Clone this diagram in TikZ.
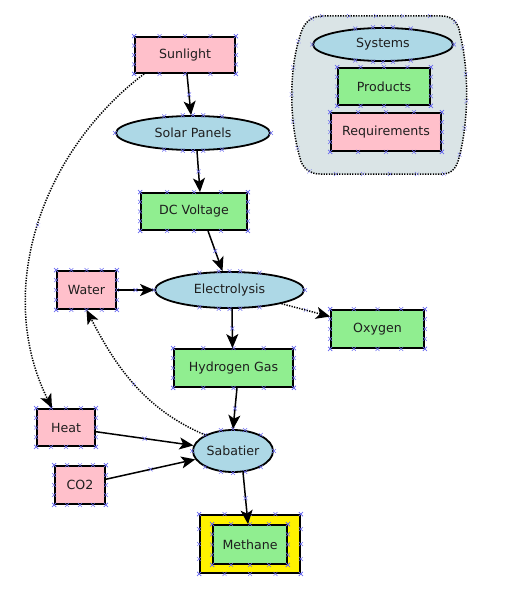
\documentclass[tikz,border=0pt]{standalone}
\usepackage{fontspec}
\setmainfont{DejaVu Sans}
\usetikzlibrary{arrows.meta,shapes.geometric,shapes.misc,calc,decorations.markings}
\definecolor{pinkc}{RGB}{255,192,203}
\definecolor{greenc}{RGB}{144,238,144}
\definecolor{bluec}{RGB}{173,216,230}
\definecolor{legendc}{RGB}{218,228,230}
\definecolor{markc}{RGB}{110,110,240}
\definecolor{txtc}{RGB}{30,30,30}
\begin{document}
\begin{tikzpicture}[x=1pt,y=-1pt,
  font=\fontsize{12.6}{14}\selectfont,
  box/.style={draw=black,line width=1.8pt,rectangle,inner sep=0pt,text=txtc},
  req/.style={box,fill=pinkc},
  prod/.style={box,fill=greenc},
  sys/.style={box,ellipse,fill=bluec},
  xm/.style={cross out,draw=markc,line width=0.5pt,minimum size=3.5pt,inner sep=0pt},
  midmark/.style={postaction={decorate,decoration={markings,mark=at position 0.5 with {\node[xm]{};}}}},
  tip/.style={-{Stealth[length=14pt,width=12pt,inset=3.5pt]}},
  flow/.style={line width=1.5pt,tip,midmark},
  aux/.style={line width=1.5pt,dash pattern=on 1.3pt off 1.3pt,tip,midmark}
]
\useasboundingbox (0,0) rectangle (505,599);

% legend container
\draw[line width=1.5pt,dash pattern=on 1.3pt off 1.3pt,fill=legendc,
  postaction={decorate,decoration={markings,mark=between positions 0 and 1 step 27pt with {\node[xm]{};}}}]
  (322,16) -- (442,16) .. controls (453,16) and (459,24) .. (460,34)
  .. controls (469,70) and (469,120) .. (459,158)
  .. controls (456,170) and (450,174) .. (442,174) -- (320,174)
  .. controls (310,174) and (302,168) .. (300,158)
  .. controls (289,120) and (289,70) .. (300,36)
  .. controls (303,24) and (310,16) .. (322,16) -- cycle;

% legend nodes
\node[sys,minimum width=140pt,minimum height=33pt] (lsys) at (383,44.5) {Systems};
\node[prod,minimum width=92pt,minimum height=37pt] (lprod) at (384,86.5) {Products};
\node[req,minimum width=110pt,minimum height=38pt] (lreq) at (386,132) {Requirements};

% main nodes
\node[req,minimum width=100pt,minimum height=36pt] (sun) at (185,55) {Sunlight};
\node[sys,minimum width=154pt,minimum height=34pt] (solar) at (193,133) {Solar Panels};
\node[prod,minimum width=106pt,minimum height=37pt] (dc) at (194,211.5) {DC Voltage};
\node[sys,minimum width=149pt,minimum height=36pt] (elec) at (229.5,290) {Electrolysis};
\node[req,minimum width=59pt,minimum height=38pt] (water) at (86.5,290) {Water};
\node[prod,minimum width=93pt,minimum height=38pt] (oxy) at (377.5,329) {Oxygen};
\node[prod,minimum width=119pt,minimum height=38pt] (hyd) at (233.5,368) {Hydrogen Gas};
\node[req,minimum width=58pt,minimum height=37pt] (heat) at (66,427.5) {Heat};
\node[sys,minimum width=80pt,minimum height=42pt] (sab) at (233,451) {Sabatier};
\node[req,minimum width=50pt,minimum height=38pt] (co2) at (80,485) {CO2};
\node[box,fill=yellow,minimum width=100pt,minimum height=58pt] (methframe) at (250,544) {};
\node[prod,minimum width=74pt,minimum height=39pt] (methane) at (250,544.5) {Methane};

% anchor marks on rectangles
\foreach \n in {lprod,lreq,sun,dc,water,oxy,hyd,heat,co2,methframe,methane}{
  \foreach \f in {0,0.25,0.5,0.75,1}{
    \node[xm] at ($(\n.north west)!\f!(\n.north east)$) {};
    \node[xm] at ($(\n.south west)!\f!(\n.south east)$) {};
    \node[xm] at ($(\n.north west)!\f!(\n.south west)$) {};
    \node[xm] at ($(\n.north east)!\f!(\n.south east)$) {};
  }
}
% anchor marks on ellipses
\foreach \n in {lsys,solar,elec,sab}{
  \foreach \a in {0,30,...,330}{
    \node[xm] at (\n.\a) {};
  }
}

% connectors
\draw[flow] ($(sun.south)+(2,0)$) -- ($(solar.north)+(-2,0)$);
\draw[flow] ($(solar.south)+(4,0)$) -- ($(dc.north)+(6,0)$);
\draw[flow] ($(dc.south)+(14,0)$) -- ($(elec.north)+(-7,0)$);
\draw[flow] (water) -- (elec);
\draw[aux] (elec) -- (oxy);
\draw[flow] ($(elec.south)+(2.5,0)$) -- ($(hyd.north)+(-1,0)$);
\draw[flow] ($(hyd.south)+(3.5,0)$) -- (sab.north);
\draw[flow] (heat) -- (sab);
\draw[flow] (co2) -- (sab);
\draw[flow] ($(sab.south)+(10,-0.7)$) -- ($(methane.north)+(-2,0)$);
\draw[aux] ($(sun.south west)+(10,0)$) .. controls (41,152) and (-6,291) .. ($(heat.north)+(-14,0)$);
\draw[aux] (sab.150) .. controls (143,409) and (114,363) .. (water.south);
\end{tikzpicture}
\end{document}
